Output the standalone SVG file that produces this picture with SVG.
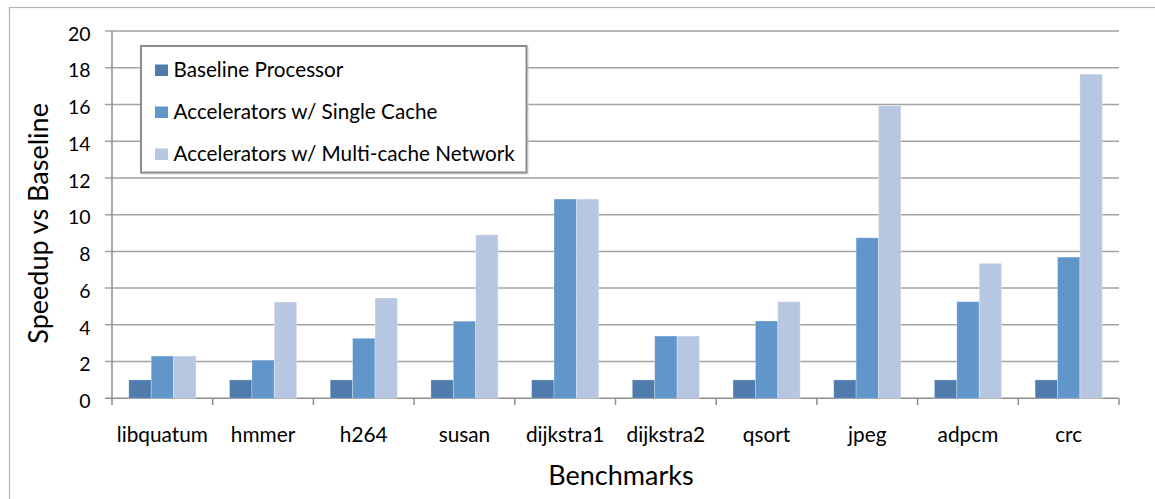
<svg xmlns="http://www.w3.org/2000/svg" width="1155" height="499" viewBox="0 0 1155 499">
  <style>
    text { font-family: Lato, "Liberation Sans", sans-serif; fill: #000; }
    .tick { font-size: 19.5px; text-anchor: end; }
    .cat { font-size: 20.8px; text-anchor: middle; }
    .title { font-size: 27px; text-anchor: middle; }
    .leg { font-size: 20.7px; }
    .grid { stroke: #A3A3A3; stroke-width: 1.5; fill: none; }
    .axis { stroke: #8E8E8E; stroke-width: 1.5; fill: none; }
    .s1 { fill: #4F7CAD; }
    .s2 { fill: #6196CA; }
    .s3 { fill: #B8C7E1; }
    .bar { stroke: #FFFFFF; stroke-opacity: 0.35; stroke-width: 0.8; }
  </style>

  <!-- chart frame -->
  <rect x="0" y="0" width="1155" height="499" fill="#FFFFFF"/>
  <rect x="9.5" y="7.5" width="1160" height="500" fill="none" stroke="#B2B2B2" stroke-width="1.2"/>

  <!-- horizontal gridlines -->
  <g id="gridlines">
    <line class="grid" x1="105" y1="361.57" x2="1119" y2="361.57"/>
    <line class="grid" x1="105" y1="324.84" x2="1119" y2="324.84"/>
    <line class="grid" x1="105" y1="288.11" x2="1119" y2="288.11"/>
    <line class="grid" x1="105" y1="251.38" x2="1119" y2="251.38"/>
    <line class="grid" x1="105" y1="214.65" x2="1119" y2="214.65"/>
    <line class="grid" x1="105" y1="177.92" x2="1119" y2="177.92"/>
    <line class="grid" x1="105" y1="141.19" x2="1119" y2="141.19"/>
    <line class="grid" x1="105" y1="104.46" x2="1119" y2="104.46"/>
    <line class="grid" x1="105" y1="67.73" x2="1119" y2="67.73"/>
    <line class="grid" x1="105" y1="31" x2="1119" y2="31"/>
  </g>

  <!-- axes -->
  <g id="axes">
    <line class="axis" x1="112" y1="31" x2="112" y2="398.3"/>
    <line class="axis" x1="105" y1="398.3" x2="1119" y2="398.3"/>
    <path class="axis" d="M112 398.3V405 M212.7 398.3V405 M313.4 398.3V405 M414.1 398.3V405 M514.8 398.3V405 M615.5 398.3V405 M716.2 398.3V405 M816.9 398.3V405 M917.6 398.3V405 M1018.3 398.3V405 M1119 398.3V405"/>
  </g>

  <!-- value axis labels -->
  <g id="y-labels">
    <text class="tick" x="90.5" y="408">0</text>
    <text class="tick" x="90.5" y="371.3">2</text>
    <text class="tick" x="90.5" y="334.5">4</text>
    <text class="tick" x="90.5" y="297.8">6</text>
    <text class="tick" x="90.5" y="261.1">8</text>
    <text class="tick" x="90.5" y="224.4">10</text>
    <text class="tick" x="90.5" y="187.6">12</text>
    <text class="tick" x="90.5" y="150.9">14</text>
    <text class="tick" x="90.5" y="114.2">16</text>
    <text class="tick" x="90.5" y="77.4">18</text>
    <text class="tick" x="90.5" y="40.7">20</text>
  </g>

  <!-- bars: baseline, single cache, multi-cache network -->
  <g id="bars">
    <g id="libquatum">
      <rect class="bar s1" x="128.8" y="379.93" width="22.4" height="18.37"/>
      <rect class="bar s2" x="151.2" y="356.06" width="22.4" height="42.24"/>
      <rect class="bar s3" x="173.6" y="356.06" width="22.4" height="42.24"/>
    </g>
    <g id="hmmer">
      <rect class="bar s1" x="229.5" y="379.93" width="22.4" height="18.37"/>
      <rect class="bar s2" x="251.9" y="360.1" width="22.4" height="38.2"/>
      <rect class="bar s3" x="274.3" y="302.07" width="22.4" height="96.23"/>
    </g>
    <g id="h264">
      <rect class="bar s1" x="330.2" y="379.93" width="22.4" height="18.37"/>
      <rect class="bar s2" x="352.6" y="338.25" width="22.4" height="60.05"/>
      <rect class="bar s3" x="375" y="298.03" width="22.4" height="100.27"/>
    </g>
    <g id="susan">
      <rect class="bar s1" x="430.9" y="379.93" width="22.4" height="18.37"/>
      <rect class="bar s2" x="453.3" y="321.17" width="22.4" height="77.13"/>
      <rect class="bar s3" x="475.7" y="234.85" width="22.4" height="163.45"/>
    </g>
    <g id="dijkstra1">
      <rect class="bar s1" x="531.6" y="379.93" width="22.4" height="18.37"/>
      <rect class="bar s2" x="554" y="199.04" width="22.4" height="199.26"/>
      <rect class="bar s3" x="576.4" y="199.04" width="22.4" height="199.26"/>
    </g>
    <g id="dijkstra2">
      <rect class="bar s1" x="632.3" y="379.93" width="22.4" height="18.37"/>
      <rect class="bar s2" x="654.7" y="336.04" width="22.4" height="62.26"/>
      <rect class="bar s3" x="677.1" y="336.04" width="22.4" height="62.26"/>
    </g>
    <g id="qsort">
      <rect class="bar s1" x="733" y="379.93" width="22.4" height="18.37"/>
      <rect class="bar s2" x="755.4" y="320.98" width="22.4" height="77.32"/>
      <rect class="bar s3" x="777.8" y="301.7" width="22.4" height="96.6"/>
    </g>
    <g id="jpeg">
      <rect class="bar s1" x="833.7" y="379.93" width="22.4" height="18.37"/>
      <rect class="bar s2" x="856.1" y="237.79" width="22.4" height="160.51"/>
      <rect class="bar s3" x="878.5" y="105.75" width="22.4" height="292.55"/>
    </g>
    <g id="adpcm">
      <rect class="bar s1" x="934.4" y="379.93" width="22.4" height="18.37"/>
      <rect class="bar s2" x="956.8" y="301.7" width="22.4" height="96.6"/>
      <rect class="bar s3" x="979.2" y="263.32" width="22.4" height="134.98"/>
    </g>
    <g id="crc">
      <rect class="bar s1" x="1035.1" y="379.93" width="22.4" height="18.37"/>
      <rect class="bar s2" x="1057.5" y="257.07" width="22.4" height="141.23"/>
      <rect class="bar s3" x="1079.9" y="74.16" width="22.4" height="324.14"/>
    </g>
  </g>

  <!-- category labels -->
  <g id="x-labels">
    <text class="cat" x="162.35" y="441.8">libquatum</text>
    <text class="cat" x="263.05" y="441.8">hmmer</text>
    <text class="cat" x="363.75" y="441.8">h264</text>
    <text class="cat" x="464.45" y="441.8">susan</text>
    <text class="cat" x="565.15" y="441.8">dijkstra1</text>
    <text class="cat" x="665.85" y="441.8">dijkstra2</text>
    <text class="cat" x="766.55" y="441.8">qsort</text>
    <text class="cat" x="867.25" y="441.8">jpeg</text>
    <text class="cat" x="967.95" y="441.8">adpcm</text>
    <text class="cat" x="1068.65" y="441.8">crc</text>
  </g>

  <!-- axis titles -->
  <g id="axis-titles">
    <text class="title" x="621" y="485">Benchmarks</text>
    <text class="title" transform="translate(47.7 223.4) rotate(-90)">Speedup vs Baseline</text>
  </g>

  <!-- legend -->
  <g id="legend">
    <rect x="142" y="47" width="386" height="127" fill="none" stroke="#D0D0D0" stroke-width="1"/>
    <rect x="141" y="46" width="385.5" height="126.5" fill="#FFFFFF" stroke="#8C8C8C" stroke-width="2"/>
    <rect class="s1" x="155" y="64.5" width="13" height="11.5"/>
    <text class="leg" x="173.5" y="76.7">Baseline Processor</text>
    <rect class="s2" x="155" y="106.5" width="13" height="11.5"/>
    <text class="leg" x="173.5" y="119">Accelerators w/ Single Cache</text>
    <rect class="s3" x="155" y="148.5" width="13" height="11.5"/>
    <text class="leg" x="173.5" y="160.7">Accelerators w/ Multi-cache Network</text>
  </g>
</svg>
